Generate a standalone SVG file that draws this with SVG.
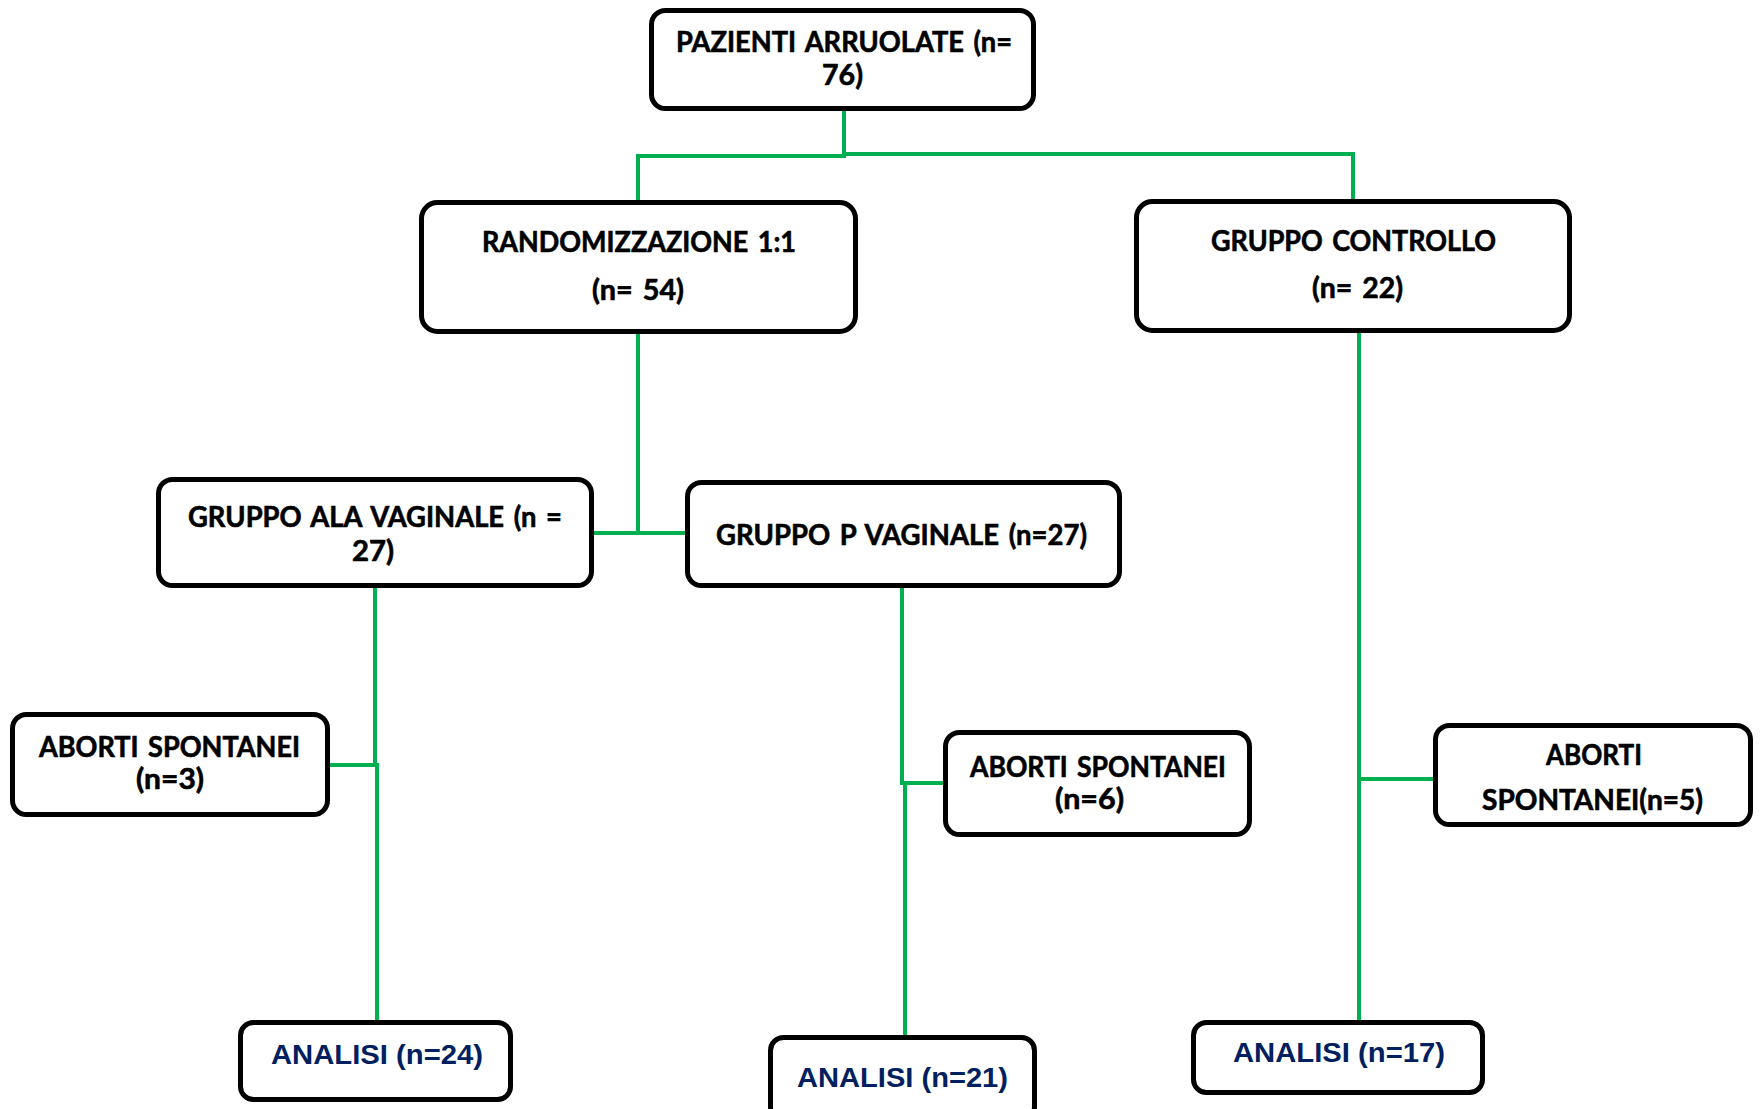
<svg xmlns="http://www.w3.org/2000/svg" width="1760" height="1109" viewBox="0 0 1760 1109">
<style>
.box{fill:#ffffff;stroke:#000000;stroke-width:5}
.t{font-family:Lato,"Open Sans","Liberation Sans",sans-serif;font-weight:bold;font-size:28px;fill:#000000;stroke:#000000;stroke-width:0.6;word-spacing:3px}
.a{font-family:"Liberation Sans",Arial,sans-serif;font-weight:bold;font-size:28px;fill:#002060}
.c{fill:none;stroke:#00B050;stroke-width:4}
</style>
<rect width="1760" height="1109" fill="#ffffff"/>
<g id="connectors">
<path class="c" d="M844 109 V156"/>
<path class="c" d="M846 156 H638 V201"/>
<path class="c" d="M842 154 H1353 V200"/>
<path class="c" d="M638 332 V533"/>
<path class="c" d="M592 533 H687"/>
<path class="c" d="M375 586 V767"/>
<path class="c" d="M328 765 H377 V1021"/>
<path class="c" d="M902 586 V785"/>
<path class="c" d="M902 783 H945"/>
<path class="c" d="M905 781 V1036"/>
<path class="c" d="M1359 331 V1021"/>
<path class="c" d="M1359 779 H1435"/>
</g>
<g id="n-pazienti">
<rect class="box" x="651.5" y="10.5" width="382" height="98" rx="14"/>
<text class="t" x="676" y="52" textLength="336" lengthAdjust="spacingAndGlyphs">PAZIENTI ARRUOLATE (n=</text>
<text class="t" x="822" y="85" textLength="41" lengthAdjust="spacingAndGlyphs">76)</text>
</g>
<g id="n-random">
<rect class="box" x="421.5" y="202.5" width="434" height="129" rx="16"/>
<text class="t" x="482" y="252" textLength="314" lengthAdjust="spacingAndGlyphs">RANDOMIZZAZIONE 1:1</text>
<text class="t" x="592" y="300" textLength="92" lengthAdjust="spacingAndGlyphs">(n= 54)</text>
</g>
<g id="n-controllo">
<rect class="box" x="1136.5" y="201.5" width="433" height="129" rx="16"/>
<text class="t" x="1211" y="251" textLength="285" lengthAdjust="spacingAndGlyphs">GRUPPO CONTROLLO</text>
<text class="t" x="1312" y="298" textLength="91" lengthAdjust="spacingAndGlyphs">(n= 22)</text>
</g>
<g id="n-ala">
<rect class="box" x="158.5" y="479.5" width="433" height="106" rx="14"/>
<text class="t" x="188" y="527" textLength="374" lengthAdjust="spacingAndGlyphs">GRUPPO ALA VAGINALE (n =</text>
<text class="t" x="352" y="561" textLength="42" lengthAdjust="spacingAndGlyphs">27)</text>
</g>
<g id="n-p">
<rect class="box" x="687.5" y="482.5" width="432" height="103" rx="14"/>
<text class="t" x="716" y="545" textLength="371" lengthAdjust="spacingAndGlyphs">GRUPPO P VAGINALE (n=27)</text>
</g>
<g id="n-aborti3">
<rect class="box" x="12.5" y="714.5" width="315" height="100" rx="14"/>
<text class="t" x="39" y="757" textLength="261" lengthAdjust="spacingAndGlyphs">ABORTI SPONTANEI</text>
<text class="t" x="136" y="789" textLength="68" lengthAdjust="spacingAndGlyphs">(n=3)</text>
</g>
<g id="n-aborti6">
<rect class="box" x="945.5" y="732.5" width="304" height="102" rx="14"/>
<text class="t" x="970" y="777" textLength="256" lengthAdjust="spacingAndGlyphs">ABORTI SPONTANEI</text>
<text class="t" x="1055" y="809" textLength="69" lengthAdjust="spacingAndGlyphs">(n=6)</text>
</g>
<g id="n-aborti5">
<rect class="box" x="1435.5" y="725.5" width="315" height="99" rx="14"/>
<text class="t" x="1546" y="765" textLength="96" lengthAdjust="spacingAndGlyphs">ABORTI</text>
<text class="t" x="1482" y="810" textLength="221" lengthAdjust="spacingAndGlyphs">SPONTANEI(n=5)</text>
</g>
<g id="n-analisi24">
<rect class="box" x="240.5" y="1022.5" width="270" height="77" rx="13"/>
<text class="a" x="271" y="1064" textLength="212" lengthAdjust="spacingAndGlyphs">ANALISI (n=24)</text>
</g>
<g id="n-analisi21">
<rect class="box" x="770.5" y="1037.5" width="264" height="82" rx="13"/>
<text class="a" x="797" y="1087" textLength="211" lengthAdjust="spacingAndGlyphs">ANALISI (n=21)</text>
</g>
<g id="n-analisi17">
<rect class="box" x="1193.5" y="1022.5" width="289" height="70" rx="13"/>
<text class="a" x="1233" y="1062" textLength="212" lengthAdjust="spacingAndGlyphs">ANALISI (n=17)</text>
</g>
</svg>
